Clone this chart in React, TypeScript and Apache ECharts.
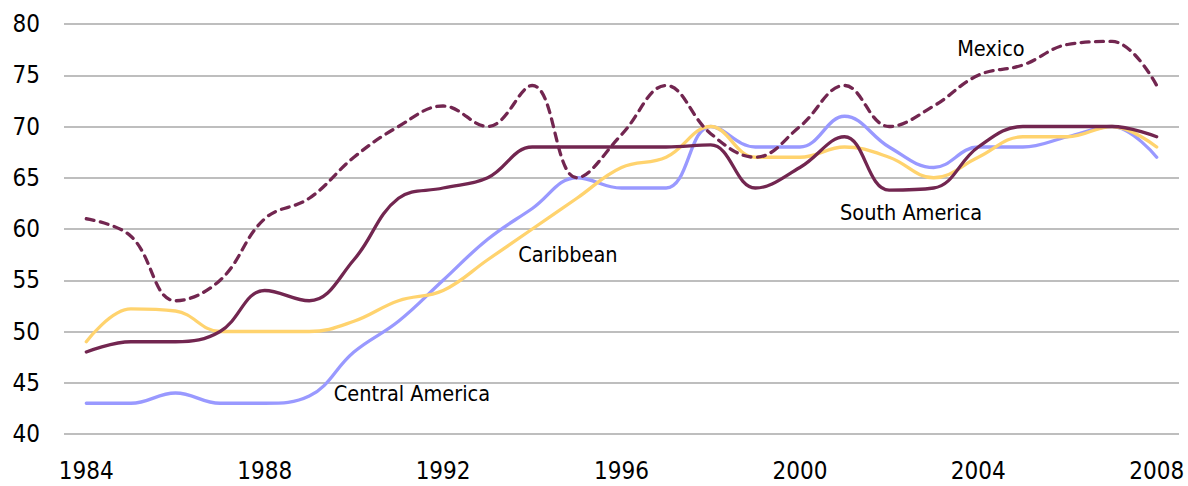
import React, { useEffect, useRef } from "react";
import * as echarts from "echarts";

const years = [
  "1984","1985","1986","1987","1988","1989","1990","1991","1992","1993","1994","1995",
  "1996","1997","1998","1999","2000","2001","2002","2003","2004","2005","2006","2007","2008",
];
const mexico = [61, 59.3, 53, 55, 61, 63, 67, 70, 72, 70, 74, 65, 69.2, 74, 69.3, 67, 70, 74, 70, 72, 75, 76, 78, 78.3, 74];
const southAmerica = [48, 49, 49, 50, 54, 53, 57, 63, 64, 65, 68, 68, 68, 68, 68.2, 64, 66, 69, 63.8, 64, 68, 70, 70, 70, 69];
const caribbean = [49, 52.2, 52, 50, 50, 50, 51, 53, 54, 57, 60, 63, 66, 67, 70, 67, 67, 68, 67, 65, 67, 69, 69, 70, 68];
const centralAmerica = [43, 43, 44, 43, 43, 43.7, 48, 51, 55, 59, 62, 65, 64, 64, 70, 68, 68, 71, 68, 66, 68, 68, 69, 70, 67];

const labels = [
  { name: "Mexico", year: "2005", value: 77.6, dx: -32 },
  { name: "South America", year: "2002", value: 61.6, dx: 22 },
  { name: "Caribbean", year: "1995", value: 57.5, dx: -9 },
  { name: "Central America", year: "1990", value: 44.0, dx: 58 },
];

const MAROON = "#722650";
const BLUE = "#9999FF";
const YELLOW = "#FFD36E";
const FONT = "'DejaVu Sans Condensed', 'DejaVu Sans', sans-serif";

export default function App() {
  const ref = useRef<HTMLDivElement>(null);
  useEffect(() => {
    document.body.style.margin = "0";
    const chart = echarts.init(ref.current!, null, { renderer: "svg" });
    const mk = (name: string, data: number[], color: string, dashed = false, z = 2) => ({
      name,
      type: "line",
      data,
      smooth: 0.4,
      symbol: "none",
      z,
      lineStyle: { width: 3.3, cap: "round", join: "round", color, type: dashed ? [8, 6.5] : "solid" },
    });
    chart.setOption({
      animation: false,
      grid: { left: 64, right: 9, top: 24, bottom: 52, containLabel: false },
      xAxis: {
        type: "category",
        data: years,
        boundaryGap: true,
        axisLine: { show: false },
        axisTick: { show: false },
        axisLabel: {
          interval: 3,
          margin: 25,
          color: "#000",
          fontSize: 24,
          fontFamily: FONT,
        },
      },
      yAxis: {
        type: "value",
        min: 40,
        max: 80,
        interval: 5,
        axisLine: { show: false },
        axisTick: { show: false },
        axisLabel: { margin: 24, color: "#000", fontSize: 24, fontFamily: FONT },
        splitLine: { lineStyle: { color: "#BEBEBE", width: 2 } },
      },
      series: [
        mk("Central America", centralAmerica, BLUE, false, 2),
        mk("Caribbean", caribbean, YELLOW, false, 3),
        mk("South America", southAmerica, MAROON, false, 4),
        {
          ...mk("Mexico", mexico, MAROON, true, 5),
          markPoint: {
            symbol: "circle",
            symbolSize: 0,
            silent: true,
            data: labels.map((l) => ({
              coord: [l.year, l.value],
              label: {
                show: true,
                formatter: l.name,
                position: "inside",
                offset: [l.dx, 0],
                color: "#000",
                fontSize: 21.5,
                fontFamily: FONT,
              },
            })),
          },
        },
      ],
    });
    return () => chart.dispose();
  }, []);
  return <div ref={ref} style={{ width: 1188, height: 486 }} />;
}
